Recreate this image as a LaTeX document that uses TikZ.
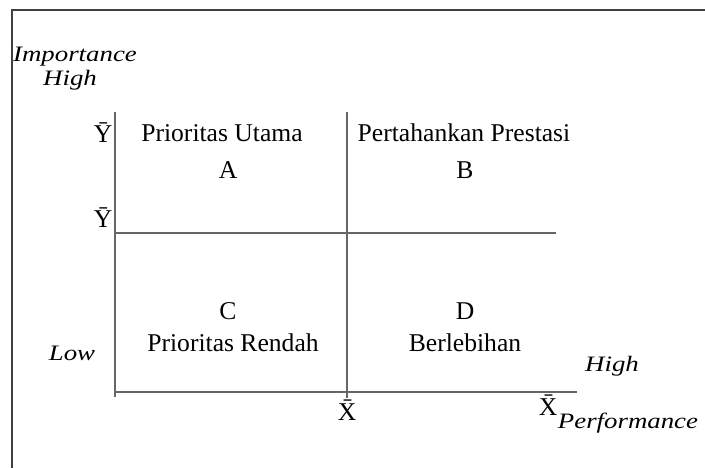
\documentclass[tikz,border=0pt]{standalone}
\usepackage{fontspec}
\setmainfont{Liberation Serif}
\usetikzlibrary{positioning}
\newcommand{\widetext}[1]{\scalebox{1.22}[1]{#1}}
\tikzset{
  axisline/.style={draw=black!60, line width=0.8pt},
  quadtext/.style={font=\fontsize{12.8}{15}\selectfont, inner sep=1pt},
  axtext/.style={font=\fontsize{11}{13}\selectfont\itshape, inner sep=1pt}
}
\begin{document}
\begin{tikzpicture}[x=0.5pt,y=-0.5pt]
  \useasboundingbox (0,0) rectangle (705,468);
  \draw[line width=1pt, black!75] (705,10) -- (12,10) -- (12,468);

  % axes and quadrant lines
  \coordinate (ytop) at (115,112);
  \coordinate (ybot) at (115,397);
  \coordinate (xleft) at (115,392);
  \coordinate (xright) at (577,392);
  \coordinate (mtop) at (347,112);
  \coordinate (mbot) at (347,398);
  \coordinate (hleft) at (115,233);
  \coordinate (hright) at (556,233);
  \draw[axisline] (ytop) -- (ybot);
  \draw[axisline] (xleft) -- (xright);
  \draw[axisline] (mtop) -- (mbot);
  \draw[axisline] (hleft) -- (hright);

  % axis labels
  \node[axtext] (imp) at (75,57) {\widetext{Importance}};
  \node[axtext] (yhigh) at (70,80) {\widetext{High}};
  \node[axtext] (ylow) at (72,353) {\widetext{Low}};
  \node[axtext] (xhigh) at (612,366) {\widetext{High}};
  \node[axtext] (perf) at (628,423) {\widetext{Performance}};
  \node[quadtext] (ymax) at (103,133) {Ȳ};
  \node[quadtext] (ymean) at (103,218) {Ȳ};
  \node[quadtext] (xmean) at (347,410) {X̄};
  \node[quadtext] (xmax) at (548,405) {X̄};

  % quadrants
  \node[quadtext] (qa) at (222,133) {Prioritas Utama};
  \node[quadtext] (la) at (228,170) {A};
  \node[quadtext] (qb) at (464,133) {Pertahankan Prestasi};
  \node[quadtext] (lb) at (465,170) {B};
  \node[quadtext] (lc) at (228,311) {C};
  \node[quadtext] (qc) at (233,343) {Prioritas Rendah};
  \node[quadtext] (ld) at (465,311) {D};
  \node[quadtext] (qd) at (465,343) {Berlebihan};
\end{tikzpicture}
\end{document}
